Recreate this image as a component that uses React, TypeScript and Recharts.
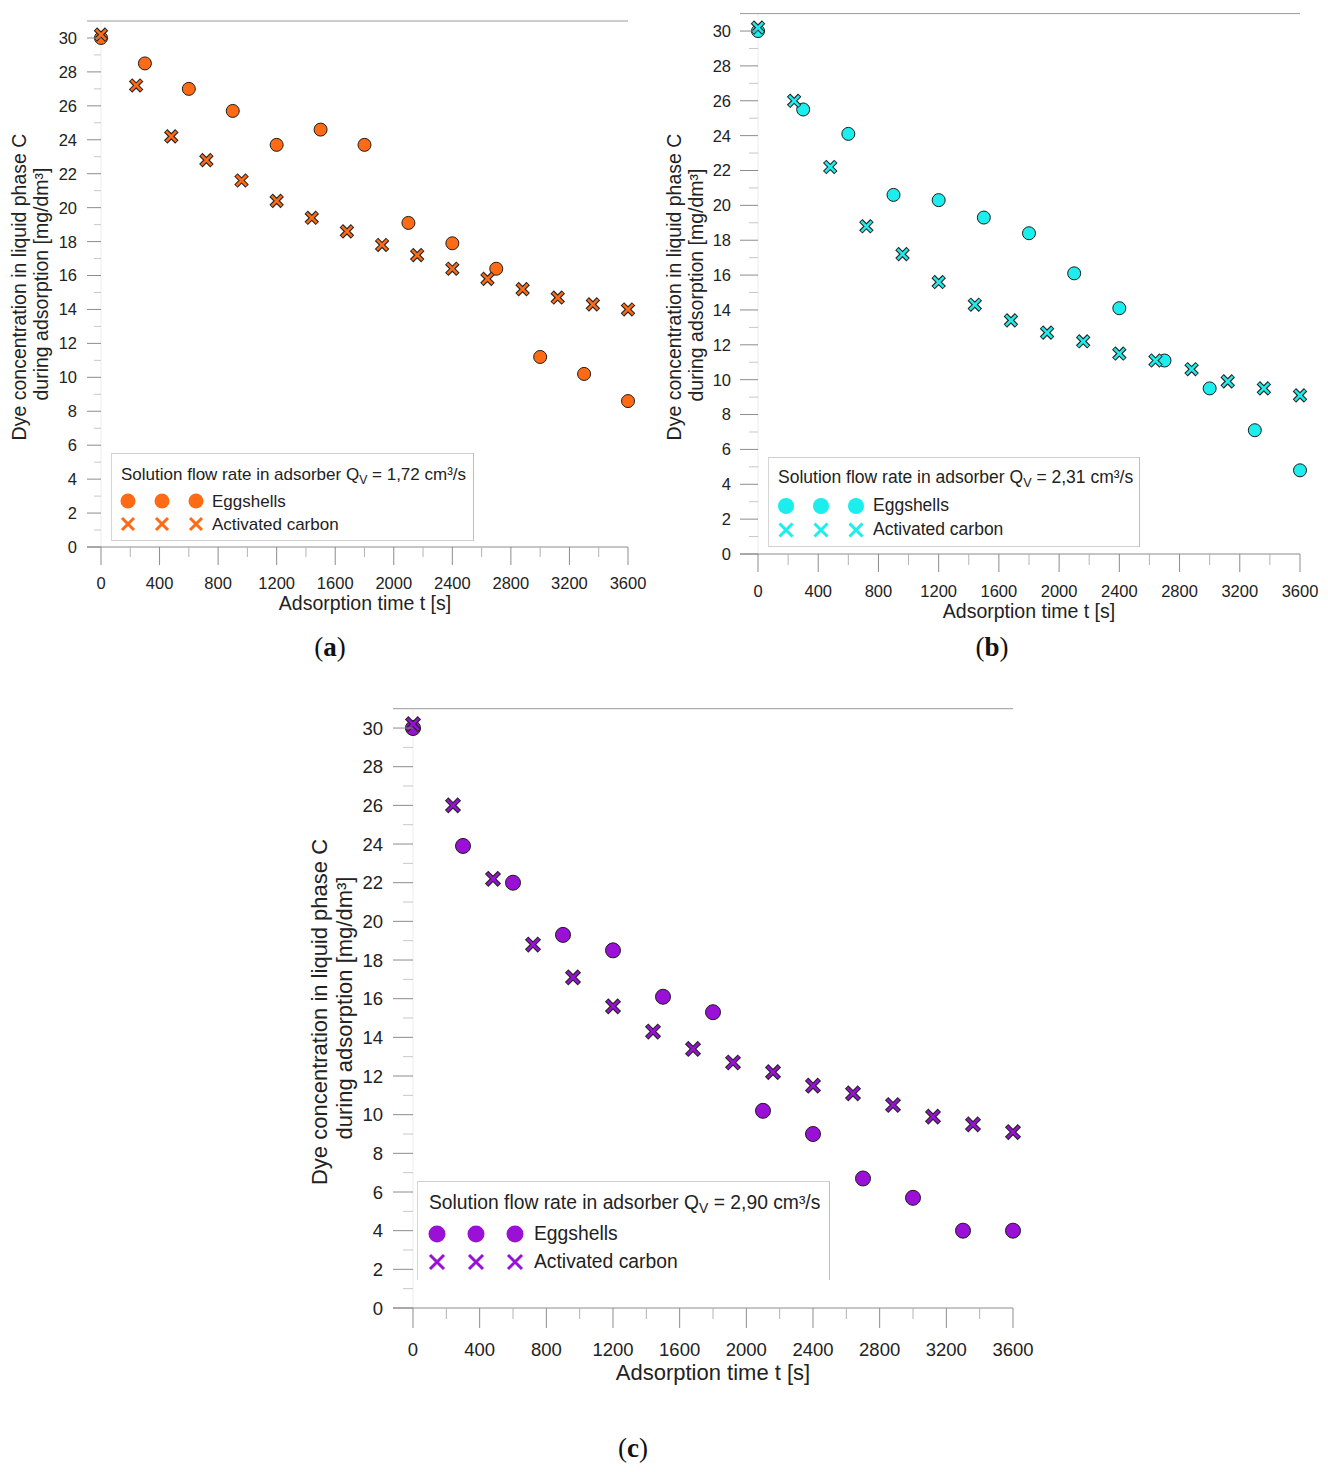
import React from 'react';
import { ScatterChart, Scatter, XAxis, YAxis, ReferenceLine } from 'recharts';

const FONT = '"Liberation Sans", Arial, Helvetica, sans-serif';
const SERIF = '"Liberation Serif", "Times New Roman", serif';

// ---- data ----
const eggshellTimes = [0, 300, 600, 900, 1200, 1500, 1800, 2100, 2400, 2700, 3000, 3300, 3600];
const carbonTimes = [0, 240, 480, 720, 960, 1200, 1440, 1680, 1920, 2160, 2400, 2640, 2880, 3120, 3360, 3600];

const eggshellA = [30, 28.5, 27.0, 25.7, 23.7, 24.6, 23.7, 19.1, 17.9, 16.4, 11.2, 10.2, 8.6];
const carbonA = [30.2, 27.2, 24.2, 22.8, 21.6, 20.4, 19.4, 18.6, 17.8, 17.2, 16.4, 15.8, 15.2, 14.7, 14.3, 14.0];

const eggshellB = [30, 25.5, 24.1, 20.6, 20.3, 19.3, 18.4, 16.1, 14.1, 11.1, 9.5, 7.1, 4.8];
const carbonB = [30.2, 26.0, 22.2, 18.8, 17.2, 15.6, 14.3, 13.4, 12.7, 12.2, 11.5, 11.1, 10.6, 9.9, 9.5, 9.1];

const eggshellC = [30, 23.9, 22.0, 19.3, 18.5, 16.1, 15.3, 10.2, 9.0, 6.7, 5.7, 4.0, 4.0];
const carbonC = [30.2, 26.0, 22.2, 18.8, 17.1, 15.6, 14.3, 13.4, 12.7, 12.2, 11.5, 11.1, 10.5, 9.9, 9.5, 9.1];

const xTickValues = [0, 200, 400, 600, 800, 1000, 1200, 1400, 1600, 1800, 2000, 2200, 2400, 2600, 2800, 3000, 3200, 3400, 3600];
const yTickValues = [0, 1, 2, 3, 4, 5, 6, 7, 8, 9, 10, 11, 12, 13, 14, 15, 16, 17, 18, 19, 20, 21, 22, 23, 24, 25, 26, 27, 28, 29, 30];

const flowRates = ['1,72', '2,31', '2,90'];
const panelLetters = ['a', 'b', 'c'];
const seriesNames = ['Eggshells', 'Activated carbon'];
const xTitle = 'Adsorption time t [s]';
const yTitleLine1 = 'Dye concentration in liquid phase C';
const yTitleLine2 = 'during adsorption [mg/dm³]';

const build = (times: number[], vals: number[]) => times.map((t, i) => ({ t, c: vals[i] }));

type Cfg = any;

const panels: Cfg[] = [
  {
    egg: eggshellA, carbon: carbonA, flow: flowRates[0], letter: panelLetters[0],
    color: '#FF6A14',
    left: 0, top: 0, width: 660, height: 660,
    margin: { top: 21, right: 32, bottom: 112, left: 86 },
    padLeft: 14, r: 6.5, h: 5.6, fs: 16.5, titleFs: 19.5,
    xMajor: 18, xMinor: 10, xLabelOffset: 36, yMinor: 7, yLabelGap: 10,
    xTitle: { cx: 365, cy: 604 }, yTitle: { x1: 20, x2: 42, cy1: 287, cy2: 284 },
    caption: { cx: 330, cy: 647 },
    legend: { left: 111, top: 453, width: 363, height: 88, fs: 17, tx: 9, ty: 20, mx: [16, 50, 84], my: [47, 70], lx: 100, cr: 7.5, ch: 6, bottom: true },
  },
  {
    egg: eggshellB, carbon: carbonB, flow: flowRates[1], letter: panelLetters[1],
    color: '#1CEDED',
    left: 660, top: 0, width: 668, height: 660,
    margin: { top: 13.6, right: 28, bottom: 105, left: 79 },
    padLeft: 18, r: 6.5, h: 5.6, fs: 16.5, titleFs: 19.5,
    xMajor: 18, xMinor: 11, xLabelOffset: 37, yMinor: 9, yLabelGap: 9,
    xTitle: { cx: 1029, cy: 612 }, yTitle: { x1: 675, x2: 697, cy1: 287, cy2: 285 },
    caption: { cx: 992, cy: 647 },
    legend: { left: 108, top: 457, width: 372, height: 90, fs: 17.5, tx: 9, ty: 20, mx: [17, 52, 87], my: [48, 72], lx: 104, cr: 8, ch: 6.5, bottom: true },
  },
  {
    egg: eggshellC, carbon: carbonC, flow: flowRates[2], letter: panelLetters[2],
    color: '#9A10D6',
    left: 300, top: 690, width: 740, height: 720,
    margin: { top: 18.7, right: 27, bottom: 101, left: 92 },
    padLeft: 20, r: 7.5, h: 6.4, fs: 18.5, titleFs: 22,
    xMajor: 20, xMinor: 11, xLabelOffset: 41, yMinor: 10, yLabelGap: 10,
    xTitle: { cx: 713, cy: 1373 }, yTitle: { x1: 320, x2: 345, cy1: 1012, cy2: 1008 },
    caption: { cx: 633, cy: 1448 },
    legend: { left: 117, top: 491, width: 413, height: 99, fs: 19.3, tx: 11, ty: 21, mx: [19, 58, 97], my: [52, 80], lx: 116, cr: 8.5, ch: 7, bottom: false },
  },
];

const XTick = (props: any) => {
  const { x, y, payload, cfg } = props;
  const v = payload.value;
  const major = v % 400 === 0;
  return (
    <g>
      <line x1={x} x2={x} y1={y} y2={y + (major ? cfg.xMajor : cfg.xMinor)} stroke={major ? '#8c8c8c' : '#b4b4b4'} strokeWidth={1} />
      {major && (
        <text x={x} y={y + cfg.xLabelOffset} dy="0.36em" textAnchor="middle" fontSize={cfg.fs} fontFamily={FONT} fill="#222">
          {v}
        </text>
      )}
    </g>
  );
};

const YTick = (props: any) => {
  const { x, y, payload, cfg } = props;
  const v = payload.value;
  const major = v % 2 === 0;
  return (
    <g>
      <line x1={major ? x : x + cfg.padLeft - cfg.yMinor} x2={x + cfg.padLeft} y1={y} y2={y} stroke={major ? '#8c8c8c' : '#c8c8c8'} strokeWidth={1} />
      {major && (
        <text x={x - cfg.yLabelGap} y={y} dy="0.36em" textAnchor="end" fontSize={cfg.fs} fontFamily={FONT} fill="#222">
          {v}
        </text>
      )}
    </g>
  );
};

const crossPath = (cx: number, cy: number, h: number) =>
  `M${cx - h},${cy - h}L${cx + h},${cy + h}M${cx - h},${cy + h}L${cx + h},${cy - h}`;

const LegendBox = ({ cfg }: { cfg: Cfg }) => {
  const L = cfg.legend;
  return (
    <div
      style={{
        position: 'absolute', left: L.left, top: L.top, width: L.width, height: L.height,
        borderTop: '1px solid #cfcfcf', borderLeft: '1px solid #d6d6d6', borderRight: '1px solid #bdbdbd',
        borderBottom: L.bottom ? '1px solid #d0d0d0' : 'none', boxSizing: 'border-box', background: 'transparent',
        fontFamily: FONT, color: '#222',
      }}
    >
      <div style={{ position: 'absolute', left: L.tx, top: L.ty, transform: 'translateY(-50%)', fontSize: L.fs, whiteSpace: 'nowrap', lineHeight: 1 }}>
        Solution flow rate in adsorber Q<span style={{ fontSize: '0.72em', position: 'relative', top: '0.3em' }}>V</span> = {cfg.flow} cm³/s
      </div>
      <svg width={L.width} height={L.height} style={{ position: 'absolute', left: 0, top: 0 }}>
        {L.mx.map((mx: number, i: number) => (
          <g key={i}>
            <circle cx={mx} cy={L.my[0]} r={L.cr} fill={cfg.color} />
            <path d={crossPath(mx, L.my[1], L.ch)} stroke={cfg.color} strokeWidth={3} />
          </g>
        ))}
      </svg>
      {seriesNames.map((name, i) => (
        <div key={name} style={{ position: 'absolute', left: L.lx, top: L.my[i], transform: 'translateY(-50%)', fontSize: L.fs, whiteSpace: 'nowrap', lineHeight: 1 }}>
          {name}
        </div>
      ))}
    </div>
  );
};

const Panel = ({ cfg }: { cfg: Cfg }) => {
  const eggData = build(eggshellTimes, cfg.egg);
  const carbonData = build(carbonTimes, cfg.carbon);
  const color = cfg.color;
  return (
    <div style={{ position: 'absolute', left: cfg.left, top: cfg.top, width: cfg.width, height: cfg.height }}>
      <ScatterChart width={cfg.width} height={cfg.height} margin={cfg.margin}>
        <XAxis
          type="number" dataKey="t" domain={[0, 3600]} ticks={xTickValues} interval={0}
          padding={{ left: cfg.padLeft, right: 0 }} height={1} tickSize={0} tickMargin={0}
          axisLine={{ stroke: '#8c8c8c', strokeWidth: 1 }} tickLine={false}
          tick={(p: any) => <XTick {...p} cfg={cfg} />}
        />
        <YAxis
          type="number" dataKey="c" domain={[0, 31]} ticks={yTickValues} interval={0}
          width={1} tickSize={0} tickMargin={0} axisLine={false} tickLine={false}
          tick={(p: any) => <YTick {...p} cfg={cfg} />}
        />
        <ReferenceLine x={0} stroke="#ececec" strokeWidth={1} />
        <ReferenceLine y={31} stroke="#9a9a9a" strokeWidth={1} />
        <Scatter
          name={seriesNames[0]} data={eggData} isAnimationActive={false}
          shape={(p: any) => <circle cx={p.cx} cy={p.cy} r={cfg.r} fill={color} stroke="#1c1c1c" strokeWidth={1} />}
        />
        <Scatter
          name={seriesNames[1]} data={carbonData} isAnimationActive={false}
          shape={(p: any) => (
            <g>
              <path d={crossPath(p.cx, p.cy, cfg.h)} stroke="#262626" strokeWidth={4.8} />
              <path d={crossPath(p.cx, p.cy, cfg.h - 0.6)} stroke={color} strokeWidth={2.5} />
            </g>
          )}
        />
      </ScatterChart>
      <LegendBox cfg={cfg} />
    </div>
  );
};

const Titles = ({ cfg }: { cfg: Cfg }) => {
  const base: React.CSSProperties = { position: 'absolute', fontFamily: FONT, color: '#222', whiteSpace: 'nowrap', lineHeight: 1 };
  return (
    <>
      <div style={{ ...base, left: cfg.xTitle.cx, top: cfg.xTitle.cy, transform: 'translate(-50%, -50%)', fontSize: cfg.titleFs }}>{xTitle}</div>
      <div style={{ ...base, left: cfg.yTitle.x1, top: cfg.yTitle.cy1, transform: 'translate(-50%, -50%) rotate(-90deg)', fontSize: cfg.titleFs }}>{yTitleLine1}</div>
      <div style={{ ...base, left: cfg.yTitle.x2, top: cfg.yTitle.cy2, transform: 'translate(-50%, -50%) rotate(-90deg)', fontSize: cfg.titleFs }}>{yTitleLine2}</div>
      <div style={{ ...base, left: cfg.caption.cx, top: cfg.caption.cy, transform: 'translate(-50%, -50%)', fontSize: 27, fontFamily: SERIF, color: '#111' }}>
        (<b>{cfg.letter}</b>)
      </div>
    </>
  );
};

export default function App() {
  return (
    <div style={{ position: 'absolute', left: 0, top: 0, width: 1328, height: 1472, background: '#fff', overflow: 'hidden' }}>
      {panels.map((cfg, i) => (
        <React.Fragment key={i}>
          <Panel cfg={cfg} />
          <Titles cfg={cfg} />
        </React.Fragment>
      ))}
    </div>
  );
}
